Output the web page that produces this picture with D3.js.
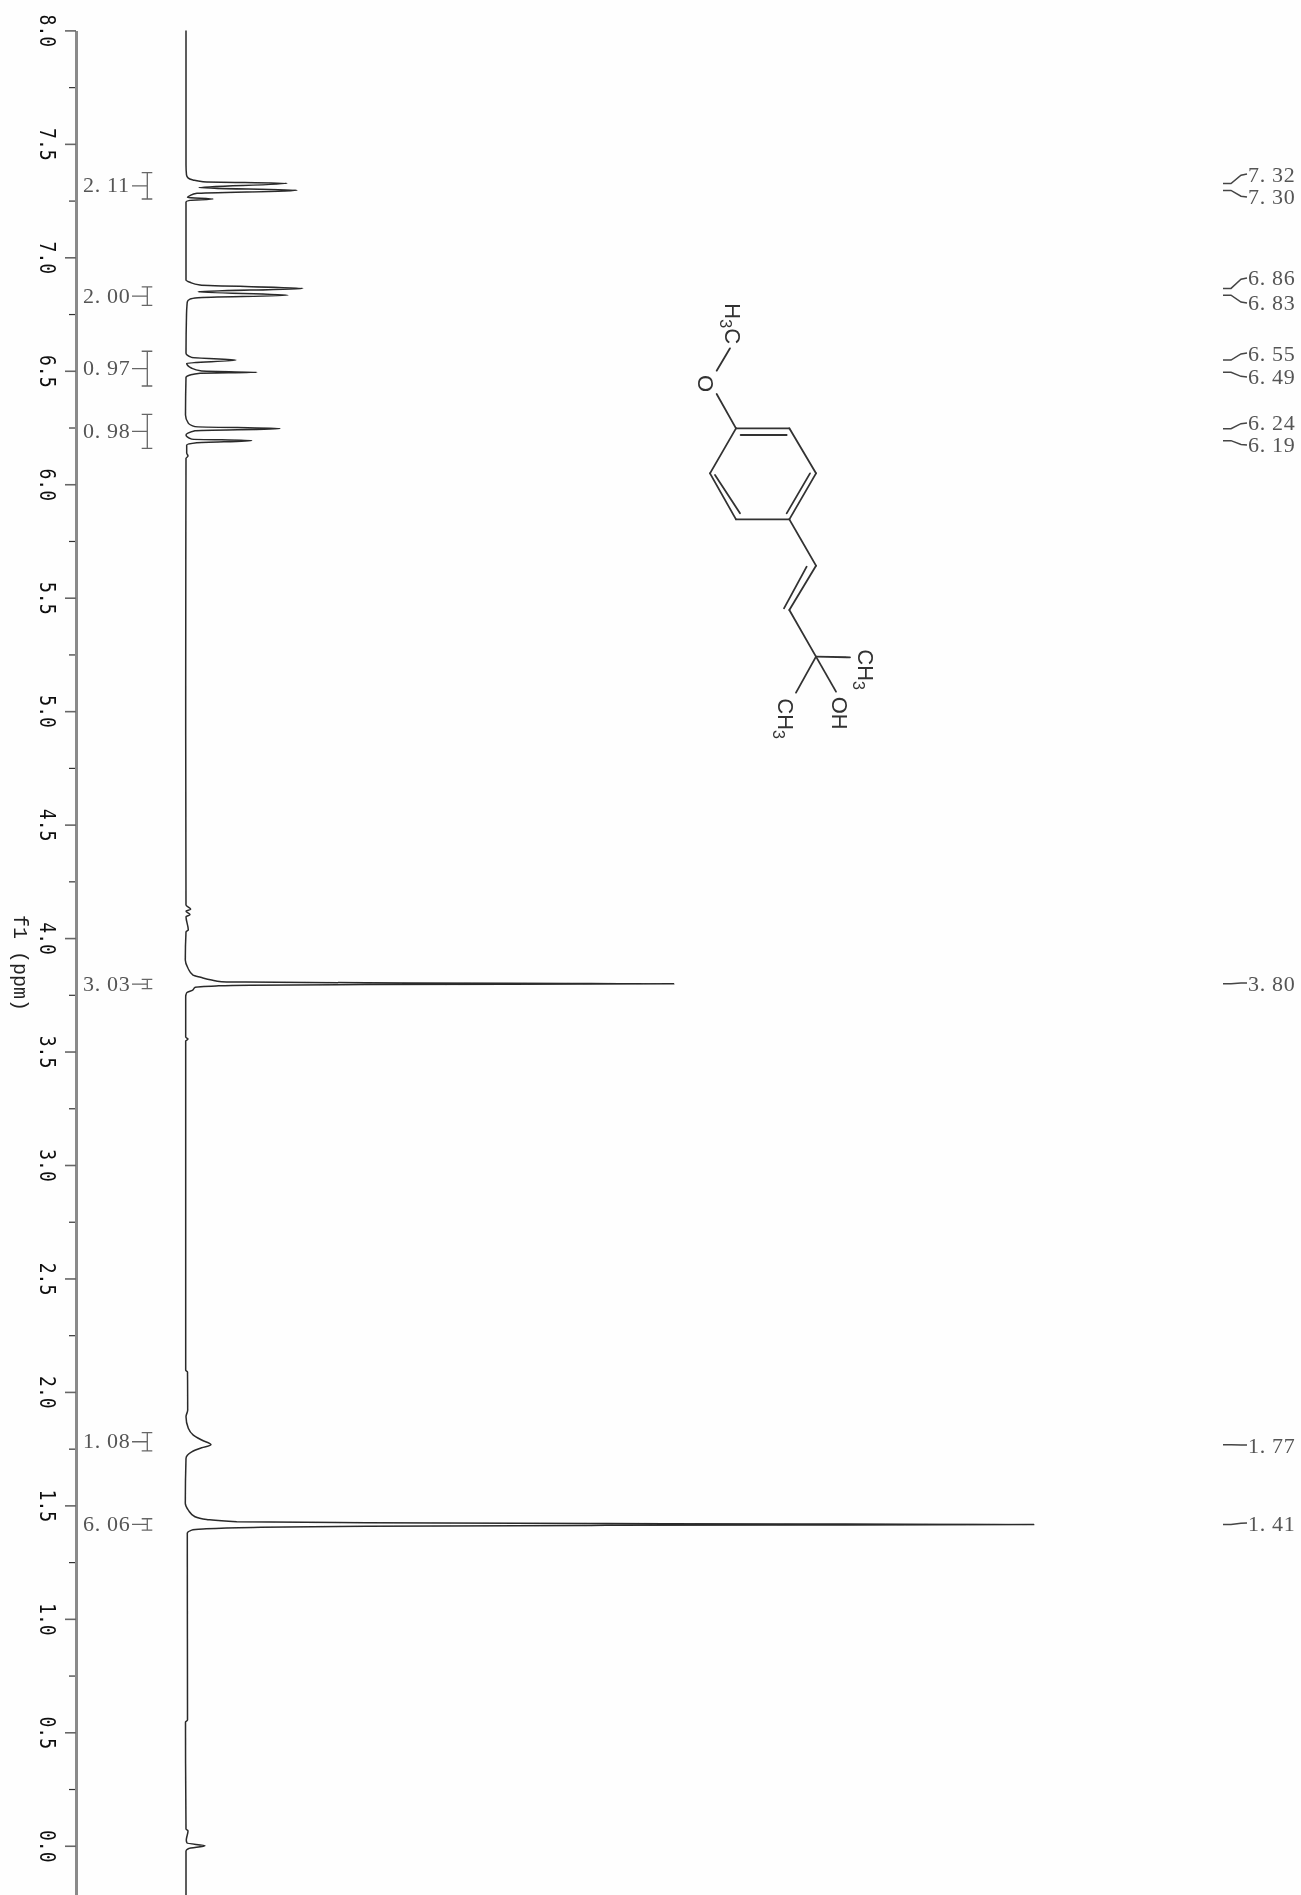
<!DOCTYPE html>
<html><head><meta charset="utf-8">
<script src="https://cdn.jsdelivr.net/npm/d3@7/dist/d3.min.js"></script>
<style>html,body{margin:0;padding:0;background:#fff}svg{display:block}</style>
</head><body><div id="chart"></div>
<script>
// spectrum trace: chemical shift (ppm) and intensity
const tracePpm = [8.00,7.407,7.363,7.350,7.341,7.333,7.326,7.307,7.295,7.282,7.272,7.264,7.257,7.251,7.244,
 6.900,6.890,6.878,6.863,6.848,6.833,6.822,6.816,6.804,6.790,6.746,
 6.577,6.559,6.547,6.533,6.511,6.499,6.493,6.489,6.481,6.471,
 6.305,6.269,6.254,6.245,6.236,6.217,6.199,6.192,6.183,6.173,6.138,6.124,6.114,
 5.049,4.146,4.127,4.119,4.103,4.094,4.036,4.027,3.903,3.867,3.837,3.827,3.815,3.808,3.806,3.803,3.799,3.795,3.792,3.789,3.783,3.771,3.759,3.742,
 3.564,3.555,3.546,2.096,2.088,1.920,1.891,1.840,1.810,1.788,1.767,1.754,1.736,1.707,
 1.509,1.479,1.450,1.438,1.428,1.424,1.420,1.416,1.412,1.408,1.403,1.396,1.391,1.377,1.303,
 0.554,0.545,0.074,0.065,0.025,0.012,0.000,-0.013,-0.023,-0.217];
const traceInt = [0,0,0.5,2,7,17,101,13,111,11,4,1.5,27,4,0,
 0,4,14,117,12,102,12,4,1.3,1,0.5,
 0,5.7,50,0.7,5.7,15.7,71,14,4,0,
 -0.5,2.3,9,94,9,0,5.7,65.7,10.7,0.7,0.7,2,0,
 -0.3,0,4.7,0,4,0,2.3,0,-0.7,2,7,14.7,25.7,35.7,60,180,488,180,64,30,9,6.7,0.7,-0.3,
 -0.3,2,-0.3,-0.3,1.5,1.7,0,2.3,7.3,15.7,25,15.7,5.7,0,
 -0.7,2.3,9,20.7,50.7,180,420,848,420,180,67,17,5.7,1.3,1.3,
 1.5,-0.5,0,2,0.3,1,19,2.3,0,0];

const majorTicks = [8,7.5,7,6.5,6,5.5,5,4.5,4,3.5,3,2.5,2,1.5,1,0.5,0];
const minorTicks = [7.75,7.25,6.75,6.25,5.75,5.25,4.75,4.25,3.75,3.25,2.75,2.25,1.75,1.25,0.75,0.25];
const axisTitle = "f1 (ppm)";

const integralText = ["2. 11","2. 00","0. 97","0. 98","3. 03","1. 08","6. 06"];
const integralFrom = [7.373,6.870,6.586,6.308,3.818,1.821,1.441];
const integralTo   = [7.257,6.788,6.433,6.158,3.777,1.740,1.391];

const peakText  = ["7. 32","7. 30","6. 86","6. 83","6. 55","6. 49","6. 24","6. 19","3. 80","1. 77","1. 41"];
const peakPpm   = [7.325,7.295,6.863,6.833,6.547,6.493,6.245,6.192,3.799,1.767,1.416];
const peakLabel = [7.367,7.266,6.909,6.799,6.578,6.473,6.270,6.173,3.802,1.766,1.422];

// molecule drawing, in the drawing's own units
const molBonds = [[228,445,388,445],[388,445,468,580],[468,580,388,718],[388,718,228,718],[228,718,150,580],[150,580,228,445],
 [242,465,380,465],[450,580,380,700],[165,585,240,700],
 [388,718,468,857],[468,857,388,990],[440,860,372,985],[388,990,468,1130],
 [468,1130,570,1132],[468,1130,528,1235],[468,1130,408,1238],
 [170,342,228,445],[170,272,210,205]];
const molLabels = [["H","3","C",195,70],["O","","",115,285],["CH","3","",595,1108],["OH","","",515,1250],["CH","3","",355,1255]];

const W = 1301, H = 1895;
const y = d3.scaleLinear().domain([8,-0.217]).range([30.4,1895]);
const x = d3.scaleLinear().domain([0,848]).range([186,1034]);
const mx = d3.scaleLinear().domain([0,720]).range([660,900]);
const my = d3.scaleLinear().domain([0,1440]).range([280,760]);

const svg = d3.select("#chart").append("svg").attr("width",W).attr("height",H);
svg.append("defs").append("filter").attr("id","soft")
  .attr("x",0).attr("y",0).attr("width",W).attr("height",H).attr("filterUnits","userSpaceOnUse")
  .append("feGaussianBlur").attr("stdDeviation",0.45);
svg.append("rect").attr("width",W).attr("height",H).attr("fill","#fefefe");
const g = svg.append("g").attr("filter","url(#soft)");

// axes
const minorAxis = g.append("g").attr("transform","translate(76,0)")
  .call(d3.axisLeft(y).tickValues(minorTicks).tickSize(7).tickFormat(""));
minorAxis.select(".domain").remove();
minorAxis.selectAll("line").attr("stroke","#333").attr("stroke-width",1.2);
const majorAxis = g.append("g").attr("transform","translate(76,0)")
  .call(d3.axisLeft(y).tickValues(majorTicks).tickSize(11).tickSizeOuter(0).tickFormat(d3.format(".1f")));
majorAxis.select(".domain").attr("stroke","#8a8a8a").attr("stroke-width",3);
majorAxis.selectAll("line").attr("stroke","#666").attr("stroke-width",1.6);
majorAxis.selectAll("text")
  .attr("x",null).attr("dy",null)
  .attr("transform","translate(-36,0) rotate(90) scale(0.86,1)")
  .attr("text-anchor","middle").attr("font-family","'DejaVu Sans Mono'").attr("font-size",21).attr("fill","#111");

g.append("text").text(axisTitle)
  .attr("transform","translate(14,963) rotate(90)").attr("text-anchor","middle")
  .attr("font-family","'Liberation Mono'").attr("font-size",20).attr("fill","#222");

// spectrum
const line = d3.line().x(i=>x(traceInt[i])).y(i=>y(tracePpm[i])).curve(d3.curveMonotoneY);
g.append("path").attr("d",line(d3.range(tracePpm.length)))
  .attr("fill","none").attr("stroke","#2a2a2a").attr("stroke-width",1.5).attr("stroke-linejoin","round");

// integrals
const ig = g.append("g").selectAll("g").data(integralText).join("g");
ig.append("text").text(d=>d).attr("x",83).attr("y",(d,i)=>y((integralFrom[i]+integralTo[i])/2)-1)
  .attr("dominant-baseline","central").attr("letter-spacing",0.7)
  .attr("font-family","'Liberation Serif'").attr("font-size",22).attr("fill","#555");
ig.append("path").attr("fill","none").attr("stroke","#666").attr("stroke-width",1.3)
  .attr("d",(d,i)=>{
    const a=y(integralFrom[i]), b=y(integralTo[i]), m=(a+b)/2;
    return `M141.7,${a}H152.3M147.3,${a}V${b}M141.7,${b}H152.3M132,${m}H147.3`;
  });

// peak labels
const pg = g.append("g").selectAll("g").data(peakText).join("g");
pg.append("text").text(d=>d).attr("x",1248).attr("y",(d,i)=>y(peakLabel[i]))
  .attr("dominant-baseline","central").attr("letter-spacing",0.7)
  .attr("font-family","'Liberation Serif'").attr("font-size",22).attr("fill","#555");
pg.append("path").attr("fill","none").attr("stroke","#444").attr("stroke-width",1.5)
  .attr("d",(d,i)=>{
    const a=y(peakPpm[i]), b=y(peakLabel[i]);
    return `M1223,${a}L1231,${a}L1241,${b+(a-b)*0.12}L1247,${b}`;
  });

// molecule
g.append("g").selectAll("line").data(molBonds).join("line")
  .attr("x1",d=>mx(d[0])).attr("y1",d=>my(d[1])).attr("x2",d=>mx(d[2])).attr("y2",d=>my(d[3]))
  .attr("stroke","#333").attr("stroke-width",1.8).attr("stroke-linecap","round");
const ml = g.append("g").selectAll("text").data(molLabels).join("text")
  .attr("transform",d=>`translate(${mx(d[3])},${my(d[4])}) rotate(90)`)
  .attr("font-family","'Liberation Sans'").attr("font-size",22).attr("fill","#333");
ml.append("tspan").text(d=>d[0]);
ml.append("tspan").text(d=>d[1]).attr("font-size",16).attr("dy",d=>d[1]?5:0);
ml.append("tspan").text(d=>d[2]).attr("dy",d=>d[2]?-5:0);
</script></body></html>
